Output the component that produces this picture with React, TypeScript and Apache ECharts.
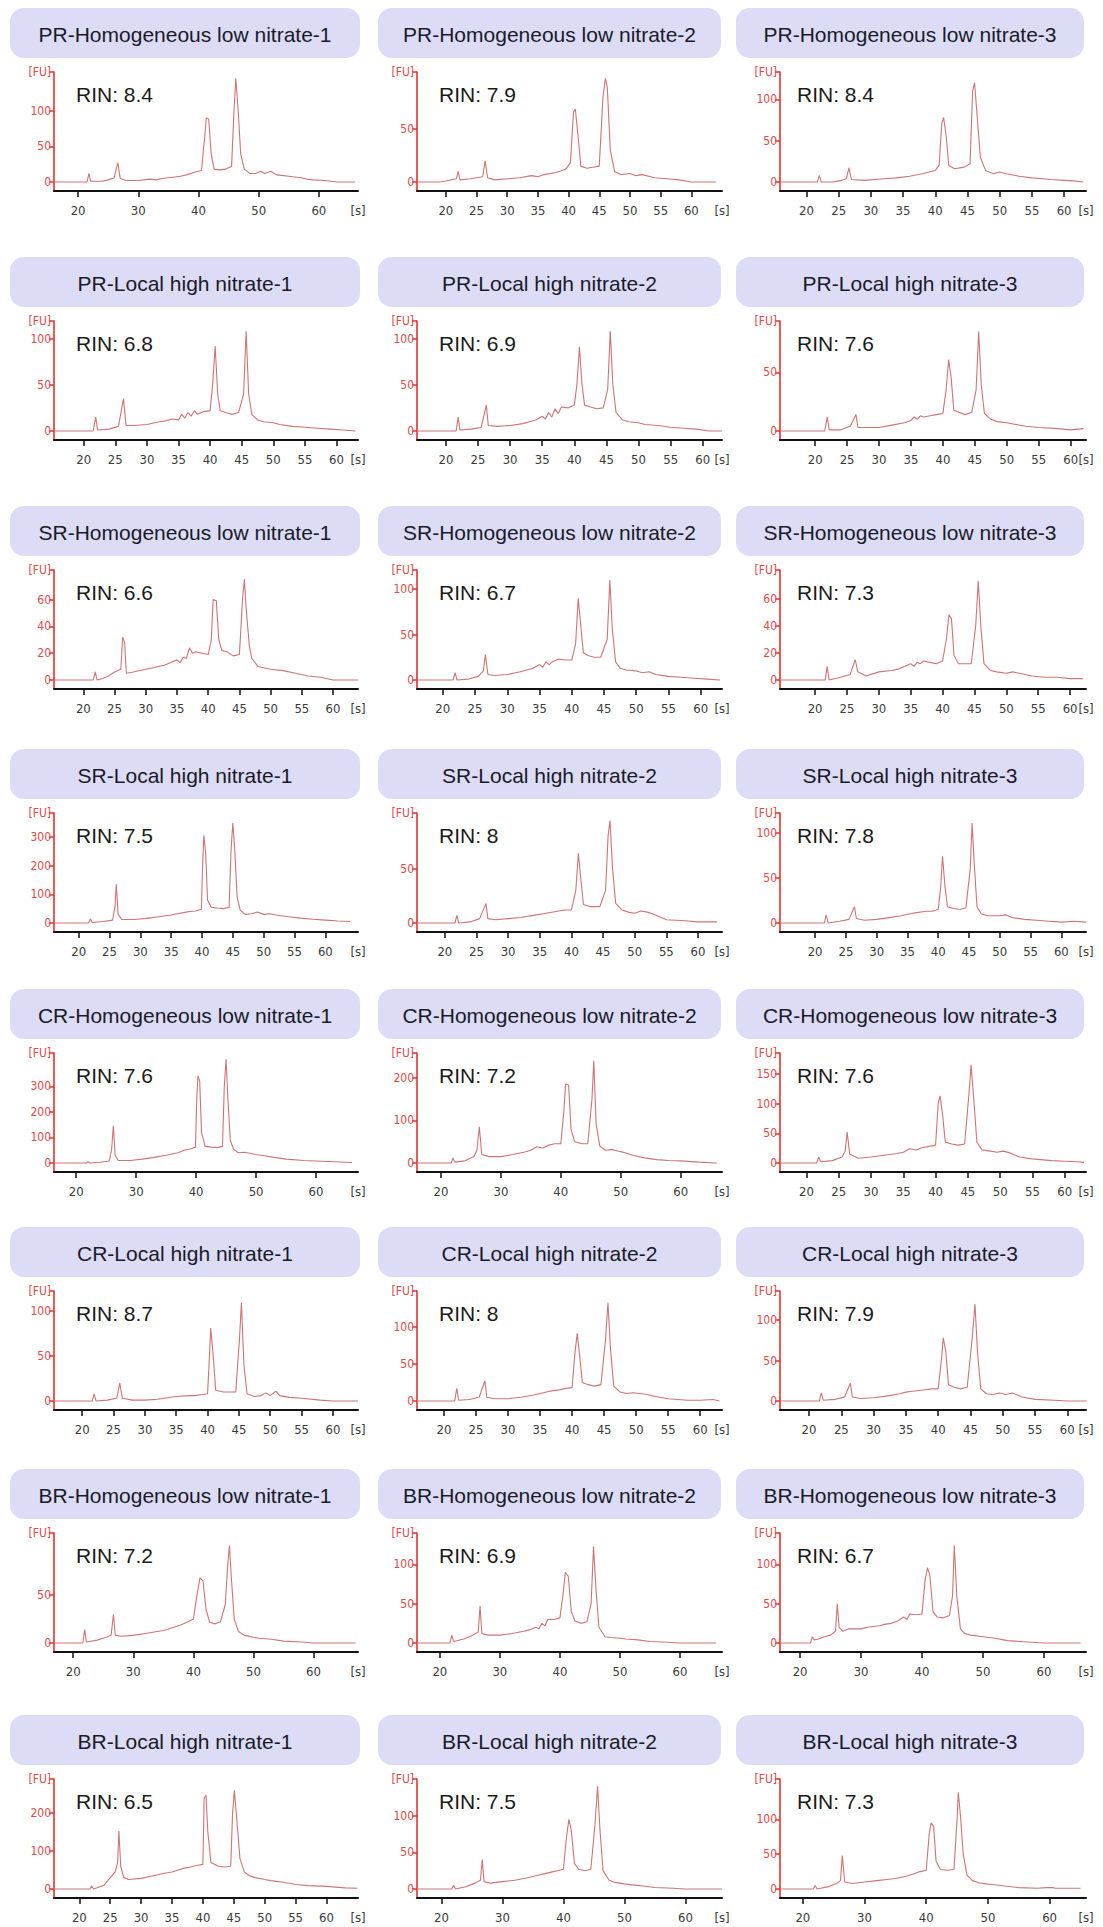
import React, { useEffect, useRef } from "react";
import * as echarts from "echarts";

// ---------- DATA ----------
const panelTitles = [
  "PR-Homogeneous low nitrate-1", "PR-Homogeneous low nitrate-2", "PR-Homogeneous low nitrate-3",
  "PR-Local high nitrate-1", "PR-Local high nitrate-2", "PR-Local high nitrate-3",
  "SR-Homogeneous low nitrate-1", "SR-Homogeneous low nitrate-2", "SR-Homogeneous low nitrate-3",
  "SR-Local high nitrate-1", "SR-Local high nitrate-2", "SR-Local high nitrate-3",
  "CR-Homogeneous low nitrate-1", "CR-Homogeneous low nitrate-2", "CR-Homogeneous low nitrate-3",
  "CR-Local high nitrate-1", "CR-Local high nitrate-2", "CR-Local high nitrate-3",
  "BR-Homogeneous low nitrate-1", "BR-Homogeneous low nitrate-2", "BR-Homogeneous low nitrate-3",
  "BR-Local high nitrate-1", "BR-Local high nitrate-2", "BR-Local high nitrate-3",
];

const rinValues = [
  "8.4", "7.9", "8.4",
  "6.8", "6.9", "7.6",
  "6.6", "6.7", "7.3",
  "7.5", "8", "7.8",
  "7.6", "7.2", "7.6",
  "8.7", "8", "7.9",
  "7.2", "6.9", "6.7",
  "6.5", "7.5", "7.3",
];

// value at the top of each y axis ([FU] mark)
const yTopValues = [
  154, 104, 133,
  119, 119, 94,
  82, 121, 81,
  383, 101, 122,
  430, 258, 185,
  122, 148, 136,
  115, 140, 140,
  290, 150, 158,
];

const yTickValues = [
  [0, 50, 100], [0, 50], [0, 50, 100],
  [0, 50, 100], [0, 50, 100], [0, 50],
  [0, 20, 40, 60], [0, 50, 100], [0, 20, 40, 60],
  [0, 100, 200, 300], [0, 50], [0, 50, 100],
  [0, 100, 200, 300], [0, 100, 200], [0, 50, 100, 150],
  [0, 50, 100], [0, 50, 100], [0, 50, 100],
  [0, 50], [0, 50, 100], [0, 50, 100],
  [0, 100, 200], [0, 50, 100], [0, 50, 100],
];

const xTickStep = [
  10, 5, 5,
  5, 5, 5,
  5, 5, 5,
  5, 5, 5,
  10, 10, 5,
  5, 5, 5,
  10, 10, 10,
  5, 10, 10,
];

const xMinValues = [
  16, 15.3, 15.9,
  15.3, 15.5, 14.5,
  15.3, 16, 14.5,
  16, 15.6, 14.3,
  16.3, 16, 15.9,
  15.5, 15.8, 15.5,
  16.8, 16.2, 16.7,
  15.9, 16, 16.3,
];
const xMaxValues = [
  66.5, 65, 63.4,
  63.4, 63, 62.4,
  64, 63.3, 62.5,
  65.3, 63.8, 64,
  67, 66.9, 63.3,
  64, 63.4, 62.9,
  67.4, 67, 66.9,
  65.1, 66, 65.9,
];

// traces: [time (s), fluorescence (FU)]
const prHom1 = [[16,0],[21.5,0],[21.8,12],[22.1,1],[24,1],[25,3],[26,6],[26.6,27],[27,5],[28,2],[30,2],[32,4],[33,3],[34,5],[35,6],[36,7],[37,8],[38,10],[39.5,14],[40.5,16],[41,60],[41.3,90],[41.7,88],[42.1,40],[42.6,18],[43.5,17],[44.5,18],[45.5,22],[45.9,100],[46.2,145],[46.6,100],[47,40],[47.6,18],[48.5,12],[49.5,12],[50.3,15],[51,12],[52,15],[53,10],[55,8],[57,6],[58,4],[59,3],[61,2],[63,0],[66,0]];
const prHom2 = [[15.5,0],[19,0],[20,1],[21.7,3],[22,10],[22.3,2],[24,3],[26,5],[26.4,20],[26.8,4],[28,2],[30,3],[32,4],[34,6],[35,5],[36,7],[38,9],[39.5,12],[40.3,18],[40.8,66],[41.1,69],[41.6,40],[42,15],[43,13],[44,14],[45,15],[45.6,80],[46,98],[46.3,90],[46.8,30],[47.5,10],[48.5,7],[50,8],[51,6],[52,7],[54,4],[56,3],[58,2],[60,0],[64,0]];
const prHom3 = [[16,0],[21.7,0],[22,8],[22.3,0],[24,0],[25.5,2],[26.2,4],[26.6,17],[27,3],[29,2],[32,4],[34,5],[36,7],[38,10],[40,14],[40.6,20],[41,70],[41.3,78],[41.7,55],[42.1,20],[43,16],[44.5,18],[45.4,22],[45.8,110],[46.1,120],[46.5,80],[47,30],[47.8,14],[49,10],[50,12],[51,10],[53,7],[55,5],[58,3],[60,2],[62,1],[63,0]];
const prLoc1 = [[15.3,0],[21.5,0],[21.9,15],[22.2,1],[24,2],[25.5,5],[26.3,35],[26.7,6],[28,6],[30,7],[32,10],[33,11],[34,13],[35,12],[35.5,18],[36,14],[36.5,20],[37,16],[37.5,22],[38,18],[39,21],[40,22],[40.4,50],[40.8,92],[41.2,40],[41.6,22],[42.5,20],[43.5,18],[44.5,20],[45.3,40],[45.7,108],[46.1,40],[46.6,18],[47.5,12],[48.5,10],[50,9],[51,7],[53,5],[55,4],[57,3],[59,2],[61,1],[63,0]];
const prLoc2 = [[15.5,0],[21.6,0],[21.9,15],[22.2,1],[24,2],[25.5,4],[26.3,28],[26.6,6],[28,5],[30,6],[32,8],[33,10],[34,12],[35,16],[35.5,13],[36,20],[36.5,15],[37,24],[37.5,19],[38,26],[39,25],[40,28],[40.4,50],[40.8,91],[41.2,50],[41.6,28],[42.5,26],[43.5,24],[44.5,25],[45.2,45],[45.6,108],[46,50],[46.5,20],[47.5,12],[48.5,10],[50,9],[51,7],[53,6],[55,4],[57,3],[59,2],[61,0],[63,0]];
const prLoc3 = [[14.5,0],[21.5,0],[21.9,12],[22.2,1],[24,1],[25.5,4],[26.4,14],[26.7,3],[28,3],[30,3],[32,5],[34,7],[35,9],[35.5,12],[36,10],[36.5,13],[37,12],[38,13],[39,14],[40,15],[40.5,35],[40.9,61],[41.3,45],[41.7,18],[42.5,16],[43.5,14],[44.5,16],[45.2,35],[45.6,85],[46,40],[46.5,15],[47.5,10],[48.5,8],[50,7],[51,6],[53,4],[55,3],[58,2],[60,1],[62,2]];
const srHom1 = [[15.3,0],[21.6,0],[21.9,6],[22.2,0],[23,1],[24,3],[25,6],[26,8],[26.3,32],[26.6,28],[26.9,5],[28,6],[30,8],[31,9],[32,10],[33,11],[34,13],[35,15],[35.5,13],[36,17],[36.5,16],[37,24],[37.5,20],[38,21],[39,20],[40,19],[40.5,30],[40.8,60],[41.3,59],[41.7,30],[42.2,22],[43,21],[44,18],[45,19],[45.5,60],[45.8,75],[46.1,52],[46.6,25],[47,16],[48,10],[49,9],[50,8],[52,7],[54,5],[56,3],[58,2],[60,0],[64,0]];
const srHom2 = [[16,0],[21.6,0],[21.9,8],[22.2,0],[24,1],[25.5,4],[26.3,10],[26.6,28],[27,6],[28,5],[30,6],[32,9],[34,13],[35,17],[35.5,14],[36,20],[36.5,17],[37,20],[38,23],[39,22],[40,22],[40.6,40],[41,90],[41.4,60],[41.8,30],[42.5,27],[43.5,25],[44.5,25],[45.5,45],[45.9,110],[46.3,55],[46.8,20],[47.5,13],[48.5,11],[50,10],[51,8],[52,9],[53,6],[55,4],[57,3],[59,2],[61,1],[63,0]];
const srHom3 = [[14.5,0],[21.6,0],[21.9,10],[22.2,0],[24,2],[25.5,4],[26.3,15],[26.7,6],[28,3],[30,6],[32,7],[33,8],[34,10],[35,12],[35.5,10],[36,13],[36.5,12],[37,14],[38,13],[39,12],[40,14],[40.6,30],[41,48],[41.4,45],[41.8,18],[42.5,12],[43.5,12],[44.5,12],[45.2,40],[45.6,73],[46,40],[46.5,12],[47.5,7],[48.5,6],[50,5],[51,6],[52,5],[54,3],[56,2],[58,2],[60,1],[62,1]];
const srLoc1 = [[16,0],[21.6,0],[21.9,15],[22.2,2],[24,5],[25.5,10],[25.9,60],[26.1,135],[26.4,30],[27,12],[29,12],[31,16],[33,22],[35,28],[36,32],[37,36],[38,40],[39,42],[39.9,48],[40.1,200],[40.3,305],[40.6,240],[40.9,80],[41.5,55],[42.5,52],[43.5,50],[44.4,55],[44.7,250],[45,348],[45.3,260],[45.7,90],[46.2,45],[47,30],[48,32],[49,38],[50,30],[51,32],[52,28],[54,22],[56,17],[58,13],[60,10],[62,7],[64,5]];
const srLoc2 = [[15.6,0],[21.6,0],[21.9,7],[22.2,0],[24,1],[25.5,4],[26.5,18],[26.8,4],[28,3],[30,4],[32,5],[34,7],[36,9],[38,11],[39,12],[40,12],[40.7,30],[41.1,64],[41.5,40],[41.9,17],[43,15],[44.5,15],[45.4,30],[45.8,80],[46.1,94],[46.5,50],[47,18],[48,12],[49,10],[50,9],[51,11],[52,10],[53,8],[55,3],[58,2],[60,1],[63,1]];
const srLoc3 = [[14.3,0],[21.5,0],[21.8,9],[22.1,0],[24,2],[25.5,4],[26.4,18],[26.7,5],[28,3],[30,4],[32,6],[34,8],[36,11],[38,13],[39,13],[40,15],[40.4,40],[40.7,74],[41.1,40],[41.5,18],[42.5,16],[43.5,15],[44.5,17],[45.2,60],[45.5,111],[45.9,60],[46.3,18],[47,10],[48,8],[50,8],[51,9],[52,6],[54,4],[56,3],[58,2],[60,1],[62,2],[64,1]];
const crHom1 = [[16.3,0],[21.7,0],[22,5],[22.3,0],[24,3],[25.5,8],[25.9,50],[26.2,145],[26.5,30],[27,10],[29,10],[31,15],[33,22],[35,30],[37,40],[38,50],[39,55],[39.9,62],[40.1,250],[40.3,340],[40.6,320],[40.9,120],[41.5,65],[42.5,62],[43.5,60],[44.4,65],[44.7,300],[45,405],[45.3,250],[45.7,90],[46.2,55],[47,40],[48,42],[49,38],[50,32],[51,30],[53,22],[55,15],[58,10],[60,8],[63,5],[66,2]];
const crHom2 = [[16,0],[21.7,0],[22,12],[22.3,2],[24,5],[25.5,15],[26,30],[26.4,85],[26.8,20],[28,15],[30,15],[32,20],[34,26],[35,30],[36,38],[37,35],[38,42],[39,45],[40,45],[40.5,120],[40.8,185],[41.3,183],[41.7,80],[42.3,50],[43.5,45],[44.5,45],[45.2,150],[45.5,240],[45.9,90],[46.5,40],[47.5,30],[48.5,32],[49.5,28],[50.5,25],[52,18],[54,12],[56,8],[58,6],[60,5],[63,2],[66,0]];
const crHom3 = [[15.9,0],[21.6,0],[21.9,10],[22.2,2],[24,4],[25.5,10],[26,20],[26.3,52],[26.7,15],[28,8],[30,10],[32,13],[34,16],[35,18],[36,24],[37,22],[38,26],[39,28],[40,30],[40.4,100],[40.7,113],[41.1,80],[41.5,35],[42.5,32],[43.5,30],[44.5,32],[45.2,120],[45.5,165],[45.9,110],[46.4,35],[47.2,22],[48.5,20],[49.5,18],[50.5,20],[51.5,17],[53,10],[55,7],[58,4],[60,3],[62,2],[63,1]];
const crLoc1 = [[15.5,0],[21.6,0],[21.9,8],[22.2,0],[24,1],[25.5,3],[26,20],[26.4,3],[28,1],[30,1],[32,2],[33,3],[35,5],[37,6],[38,6],[39,7],[40,8],[40.3,50],[40.5,81],[40.9,50],[41.3,12],[42.5,10],[43.5,10],[44.5,10],[45.1,70],[45.4,109],[45.8,40],[46.3,8],[47.5,5],[48.5,6],[49.3,9],[50,6],[50.9,11],[51.5,6],[53,4],[55,3],[58,1],[60,0],[64,0]];
const crLoc2 = [[15.8,0],[21.7,0],[22,17],[22.3,1],[24,2],[25.5,5],[26.4,27],[26.7,5],[28,3],[30,3],[32,5],[34,8],[35,10],[36,12],[37,14],[38,15],[39,17],[40,18],[40.4,60],[40.8,91],[41.2,60],[41.6,25],[42.5,22],[43.5,20],[44.5,22],[45.2,80],[45.6,132],[46,70],[46.5,20],[47.5,12],[48.5,10],[49.5,11],[50.5,10],[51.5,9],[53,6],[55,3],[58,1],[60,1],[62,2],[63,0]];
const crLoc3 = [[15.5,0],[21.6,0],[21.9,10],[22.2,1],[24,2],[25.5,5],[26.4,22],[26.7,5],[28,3],[30,4],[32,6],[34,9],[35,11],[36,12],[37,13],[38,14],[39,15],[40,15],[40.5,50],[40.8,78],[41.2,60],[41.6,20],[42.5,17],[43.5,15],[44.5,17],[45.3,80],[45.7,120],[46.1,60],[46.6,15],[47.5,9],[48.5,8],[49.5,10],[50.5,8],[51.5,10],[53,5],[55,2],[58,1],[60,0],[63,0]];
const brHom1 = [[16.8,0],[21.6,0],[21.9,14],[22.2,1],[24,3],[25.5,6],[26.3,8],[26.7,30],[27,8],[28,7],[30,8],[32,10],[34,12],[35,13],[36,15],[37,17],[38,19],[39,22],[40,25],[40.6,50],[41.1,68],[41.6,65],[42.1,35],[42.7,22],[43.5,20],[44.5,22],[45.3,40],[45.7,80],[46,102],[46.3,70],[46.8,25],[47.5,12],[48.5,8],[50,6],[51,5],[53,4],[55,2],[58,1],[60,0],[67,0]];
const brHom2 = [[16.2,0],[21.7,0],[22,10],[22.3,2],[24,5],[25.5,10],[26.4,14],[26.7,47],[27,12],[28,10],[30,10],[32,12],[34,15],[35,17],[36,20],[36.5,18],[37,25],[37.5,22],[38,30],[39,30],[40,32],[40.5,60],[40.9,90],[41.4,85],[41.9,40],[42.5,28],[43.5,25],[44.5,27],[45.2,50],[45.6,123],[46,70],[46.5,20],[47.5,8],[48.5,7],[50,6],[51,5],[53,4],[55,2],[58,1],[60,0],[66,0]];
const brHom3 = [[16.7,0],[21.7,0],[22,8],[22.3,4],[23,5],[24,8],[25,10],[25.8,15],[26.1,50],[26.4,20],[27,15],[28,18],[30,18],[31,20],[32,21],[33,22],[34,24],[35,25],[36,28],[37,33],[37.5,30],[38,37],[39,36],[40,37],[40.5,80],[40.9,96],[41.3,85],[41.8,40],[42.5,33],[43.5,32],[44.5,35],[45,60],[45.3,124],[45.7,60],[46.3,18],[47,12],[48,10],[50,8],[51,7],[52,6],[54,3],[56,2],[58,1],[60,0],[66,0]];
const brLoc1 = [[15.9,0],[21.7,0],[22,8],[22.3,0],[24,10],[25,30],[25.8,45],[26.2,70],[26.4,153],[26.7,60],[27.2,30],[28,25],[30,28],[32,35],[34,42],[35,45],[36,50],[37,55],[38,58],[39,62],[40,65],[40.2,240],[40.5,247],[40.8,150],[41.3,70],[42.5,60],[43.5,58],[44.5,60],[44.8,200],[45.1,260],[45.5,180],[46,80],[46.7,45],[47.5,35],[48.5,30],[50,25],[51,22],[53,18],[55,12],[57,9],[60,7],[63,3],[65,2]];
const brLoc2 = [[16,0],[21.7,0],[22,5],[22.3,0],[24,3],[25.5,8],[26.4,12],[26.7,40],[27,10],[28,8],[30,10],[32,12],[34,15],[35,17],[36,19],[37,21],[38,23],[39,25],[40,27],[40.5,70],[40.9,95],[41.3,80],[41.8,35],[42.5,27],[43.5,25],[44.5,27],[45.2,90],[45.6,140],[46,80],[46.5,25],[47.5,12],[48.5,9],[50,7],[51,6],[53,4],[55,2],[58,1],[60,0],[66,0]];
const brLoc3 = [[16.3,0],[21.7,0],[22,5],[22.3,0],[24,3],[25.5,8],[26.1,12],[26.4,48],[26.8,10],[28,8],[30,10],[32,12],[34,14],[35,15],[36,17],[37,19],[38,22],[39,25],[40,27],[40.5,80],[40.8,95],[41.2,90],[41.6,40],[42.3,28],[43.5,27],[44.5,28],[45,100],[45.2,139],[45.6,100],[46,50],[46.6,20],[47.5,12],[48.5,9],[50,7],[51,6],[53,4],[55,2],[58,1],[59.5,2],[60.5,2],[61,1],[65,1]];

const traces = [
  prHom1, prHom2, prHom3, prLoc1, prLoc2, prLoc3,
  srHom1, srHom2, srHom3, srLoc1, srLoc2, srLoc3,
  crHom1, crHom2, crHom3, crLoc1, crLoc2, crLoc3,
  brHom1, brHom2, brHom3, brLoc1, brLoc2, brLoc3,
];

// ---------- LAYOUT ----------
const W = 1103;
const H = 1927;
const rowBoxTop = [8, 257, 506, 749, 989, 1227, 1469, 1715];
const colBox = [[10, 360], [378, 721], [736, 1084]];
const colAxis = [[54, 358], [417, 722], [780, 1086]];
const BOX_H = 50;
const GRID_OFFSET = 64;
const GRID_H = 119;
const ZERO_OFFSET = 9; // px between zero line and x axis

const RED = "#e8302e";
const LABEL_RED = "#e04a4a";
const LINE = "#cf7475";
const BOX_FILL = "#dcdcf7";
const TICK_FONT = "'DejaVu Sans Condensed', 'DejaVu Sans', sans-serif";
const TITLE_FONT = "'Liberation Sans', Arial, sans-serif";

function buildOption() {
  const grid: any[] = [];
  const xAxis: any[] = [];
  const yAxis: any[] = [];
  const series: any[] = [];
  const graphic: any[] = [];

  for (let i = 0; i < 24; i++) {
    const r = Math.floor(i / 3);
    const c = i % 3;
    const top = rowBoxTop[r];
    const [axL, axR] = colAxis[c];
    const gTop = top + GRID_OFFSET;
    grid.push({ left: axL, top: gTop, width: axR - axL, height: GRID_H, containLabel: false });

    const xmin = xMinValues[i];
    const xmax = xMaxValues[i];
    const step = xTickStep[i];
    const xt: number[] = [];
    for (let v = 20; v <= 60; v += step) xt.push(v);
    xAxis.push({
      type: "value",
      gridIndex: i,
      min: xmin,
      max: xmax,
      axisLine: { show: true, onZero: false, lineStyle: { color: "#111", width: 2 } },
      axisTick: { show: true, customValues: xt, length: 6, lineStyle: { color: "#111", width: 1.5 } },
      axisLabel: {
        show: true,
        customValues: [...xt, xmax],
        margin: 13,
        color: "#3a3a3a",
        fontSize: 13,
        fontFamily: TICK_FONT,
        formatter: (v: number) => (Math.abs(v - xmax) < 1e-6 ? "[s]" : String(v)),
      },
      splitLine: { show: false },
    });

    const ytop = yTopValues[i];
    const ymin = -ytop * ZERO_OFFSET / (GRID_H - ZERO_OFFSET);
    const yt = yTickValues[i];
    yAxis.push({
      type: "value",
      gridIndex: i,
      min: ymin,
      max: ytop,
      axisLine: { show: true, onZero: false, lineStyle: { color: RED, width: 1.6 } },
      axisTick: { show: true, customValues: [...yt, ytop], length: 5, lineStyle: { color: RED, width: 1.5 } },
      axisLabel: {
        show: true,
        customValues: [...yt, ytop],
        margin: 3,
        color: LABEL_RED,
        fontSize: 12,
        fontFamily: TICK_FONT,
        formatter: (v: number) => (Math.abs(v - ytop) < 1e-6 ? "[FU]" : String(v)),
      },
      splitLine: { show: false },
    });

    series.push({
      type: "line",
      xAxisIndex: i,
      yAxisIndex: i,
      data: traces[i],
      showSymbol: false,
      symbol: "none",
      lineStyle: { color: LINE, width: 1.1 },
      clip: true,
      z: 3,
    });

    const [bL, bR] = colBox[c];
    graphic.push({
      type: "rect",
      shape: { x: bL, y: top, width: bR - bL, height: BOX_H, r: 14 },
      style: { fill: BOX_FILL },
      z: 1,
    });
    graphic.push({
      type: "text",
      x: (bL + bR) / 2,
      y: top + BOX_H / 2 + 1,
      style: {
        text: panelTitles[i],
        fontSize: 21,
        fontFamily: TITLE_FONT,
        fill: "#1a1a28",
        align: "center",
        verticalAlign: "middle",
      },
      z: 2,
    });
    graphic.push({
      type: "text",
      x: axL + (c === 2 ? 17 : 22),
      y: top + 86,
      style: {
        text: "RIN: " + rinValues[i],
        fontSize: 21,
        fontFamily: TITLE_FONT,
        fill: "#1a1a1a",
        align: "left",
        verticalAlign: "middle",
      },
      z: 5,
    });
  }

  return {
    animation: false,
    backgroundColor: "#ffffff",
    grid,
    xAxis,
    yAxis,
    series,
    graphic,
  };
}

export default function App() {
  const ref = useRef<HTMLDivElement>(null);
  useEffect(() => {
    if (!ref.current) return;
    const chart = echarts.init(ref.current, undefined, { renderer: "svg", width: W, height: H });
    chart.setOption(buildOption() as any);
    return () => chart.dispose();
  }, []);
  return (
    <div
      ref={ref}
      style={{ position: "absolute", left: 0, top: 0, width: W, height: H, background: "#fff" }}
    />
  );
}
